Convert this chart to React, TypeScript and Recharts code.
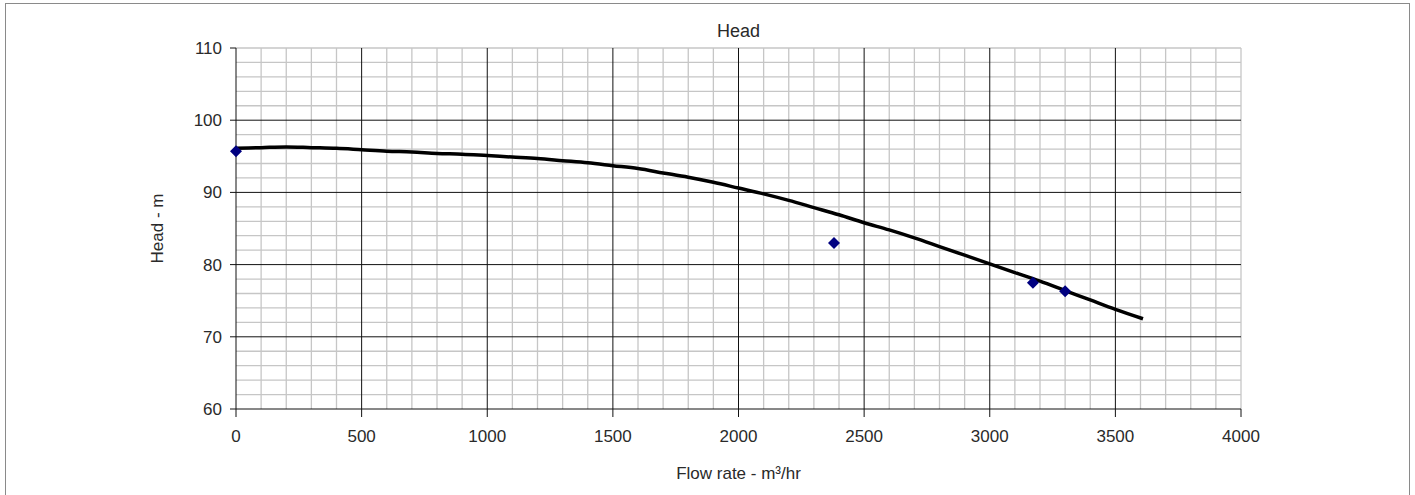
import {
  ComposedChart,
  Line,
  Scatter,
  XAxis,
  YAxis,
  ReferenceLine,
  Label,
} from "recharts";

// fitted pump curve (flow m³/hr -> head m)
const curveFlow = [
  0, 100, 200, 300, 400, 500, 600, 700, 800, 900, 1000, 1100, 1200, 1300,
  1400, 1500, 1600, 1700, 1800, 1900, 2000, 2100, 2200, 2300, 2400, 2500,
  2600, 2700, 2800, 2900, 3000, 3100, 3200, 3300, 3400, 3500, 3610,
];
const curveHead = [
  96.1, 96.2, 96.3, 96.2, 96.1, 95.9, 95.7, 95.6, 95.4, 95.3, 95.1, 94.9,
  94.7, 94.4, 94.1, 93.7, 93.3, 92.7, 92.1, 91.4, 90.6, 89.8, 88.9, 87.9,
  86.9, 85.8, 84.8, 83.7, 82.5, 81.3, 80.1, 78.9, 77.7, 76.4, 75.1, 73.8,
  72.5,
];

// measured test points
const testFlow = [0, 2380, 3172, 3300];
const testHead = [95.7, 83.0, 77.5, 76.3];

const xTicks = [0, 500, 1000, 1500, 2000, 2500, 3000, 3500, 4000];
const yTicks = [60, 70, 80, 90, 100, 110];
const majorX = [500, 1000, 1500, 2000, 2500, 3000, 3500];
const majorY = [70, 80, 90, 100];

// minor grid every 100 m³/hr and every 2 m
const minorX: number[] = [];
for (let v = 100; v <= 4000; v += 100) if (!majorX.includes(v)) minorX.push(v);
const minorY: number[] = [];
for (let v = 62; v <= 110; v += 2) if (!majorY.includes(v)) minorY.push(v);

const curveData = curveFlow.map((x, i) => ({ x, head: curveHead[i] }));
const testData = testFlow.map((x, i) => ({ x, head: testHead[i] }));

const FONT = "'Liberation Sans', Arial, sans-serif";
const TEXT = "#2a2a2a";
const tickStyle = { fontSize: 17, fill: TEXT, fontFamily: FONT };

const Diamond = (props: any) => {
  const { cx, cy } = props;
  const r = 6;
  return (
    <path
      d={`M${cx},${cy - r} L${cx + r},${cy} L${cx},${cy + r} L${cx - r},${cy} Z`}
      fill="#000080"
    />
  );
};

export default function App() {
  return (
    <div
      style={{
        position: "absolute",
        left: 0,
        top: 0,
        width: 1415,
        height: 495,
        background: "#fff",
        overflow: "hidden",
        fontFamily: FONT,
      }}
    >
      <div
        style={{
          position: "absolute",
          left: 5,
          top: 3,
          width: 1403,
          height: 500,
          border: "1px solid #8a8a8a",
        }}
      />
      <div style={{ position: "absolute", left: 0, top: 0 }}>
        <ComposedChart
          width={1415}
          height={495}
          margin={{ top: 48, right: 174, bottom: 0, left: 0 }}
        >
          {minorX.map((v) => (
            <ReferenceLine key={`mx${v}`} x={v} stroke="#c6c6c6" strokeWidth={1.3} />
          ))}
          {minorY.map((v) => (
            <ReferenceLine key={`my${v}`} y={v} stroke="#c6c6c6" strokeWidth={1.3} />
          ))}
          {majorX.map((v) => (
            <ReferenceLine key={`jx${v}`} x={v} stroke="#111" strokeWidth={1} />
          ))}
          {majorY.map((v) => (
            <ReferenceLine key={`jy${v}`} y={v} stroke="#111" strokeWidth={1} />
          ))}
          <XAxis
            dataKey="x"
            type="number"
            domain={[0, 4000]}
            ticks={xTicks}
            height={86}
            tickSize={8}
            tickMargin={13}
            tick={tickStyle}
            axisLine={{ stroke: "#111" }}
            tickLine={{ stroke: "#111" }}
          >
            <Label
              content={(p: any) => {
                const vb = p.viewBox;
                return (
                  <text
                    x={vb.x + vb.width / 2}
                    y={vb.y + 64}
                    textAnchor="middle"
                    dominantBaseline="central"
                    fontSize={17}
                    fill={TEXT}
                    fontFamily={FONT}
                  >
                    Flow rate - m³/hr
                  </text>
                );
              }}
            />
          </XAxis>
          <YAxis
            type="number"
            domain={[60, 110]}
            ticks={yTicks}
            width={236}
            tickSize={6}
            tickMargin={8}
            tick={tickStyle}
            axisLine={{ stroke: "#111" }}
            tickLine={{ stroke: "#111" }}
          >
            <Label
              content={(p: any) => {
                const vb = p.viewBox;
                const cx = 157;
                const cy = vb.y + vb.height / 2;
                return (
                  <g>
                    <text
                      x={cx}
                      y={cy}
                      transform={`rotate(-90 ${cx} ${cy})`}
                      textAnchor="middle"
                      dominantBaseline="central"
                      fontSize={17}
                      fill={TEXT}
                      fontFamily={FONT}
                    >
                      Head - m
                    </text>
                    <text
                      x={vb.x + vb.width + 1005 / 2}
                      y={31}
                      textAnchor="middle"
                      dominantBaseline="central"
                      fontSize={18}
                      fill={TEXT}
                      fontFamily={FONT}
                    >
                      Head
                    </text>
                  </g>
                );
              }}
            />
          </YAxis>
          <Line
            data={curveData}
            dataKey="head"
            type="monotone"
            stroke="#000"
            strokeWidth={3.5}
            dot={false}
            activeDot={false}
            isAnimationActive={false}
          />
          <Scatter
            data={testData}
            dataKey="head"
            shape={Diamond}
            isAnimationActive={false}
          />
        </ComposedChart>
      </div>
    </div>
  );
}
